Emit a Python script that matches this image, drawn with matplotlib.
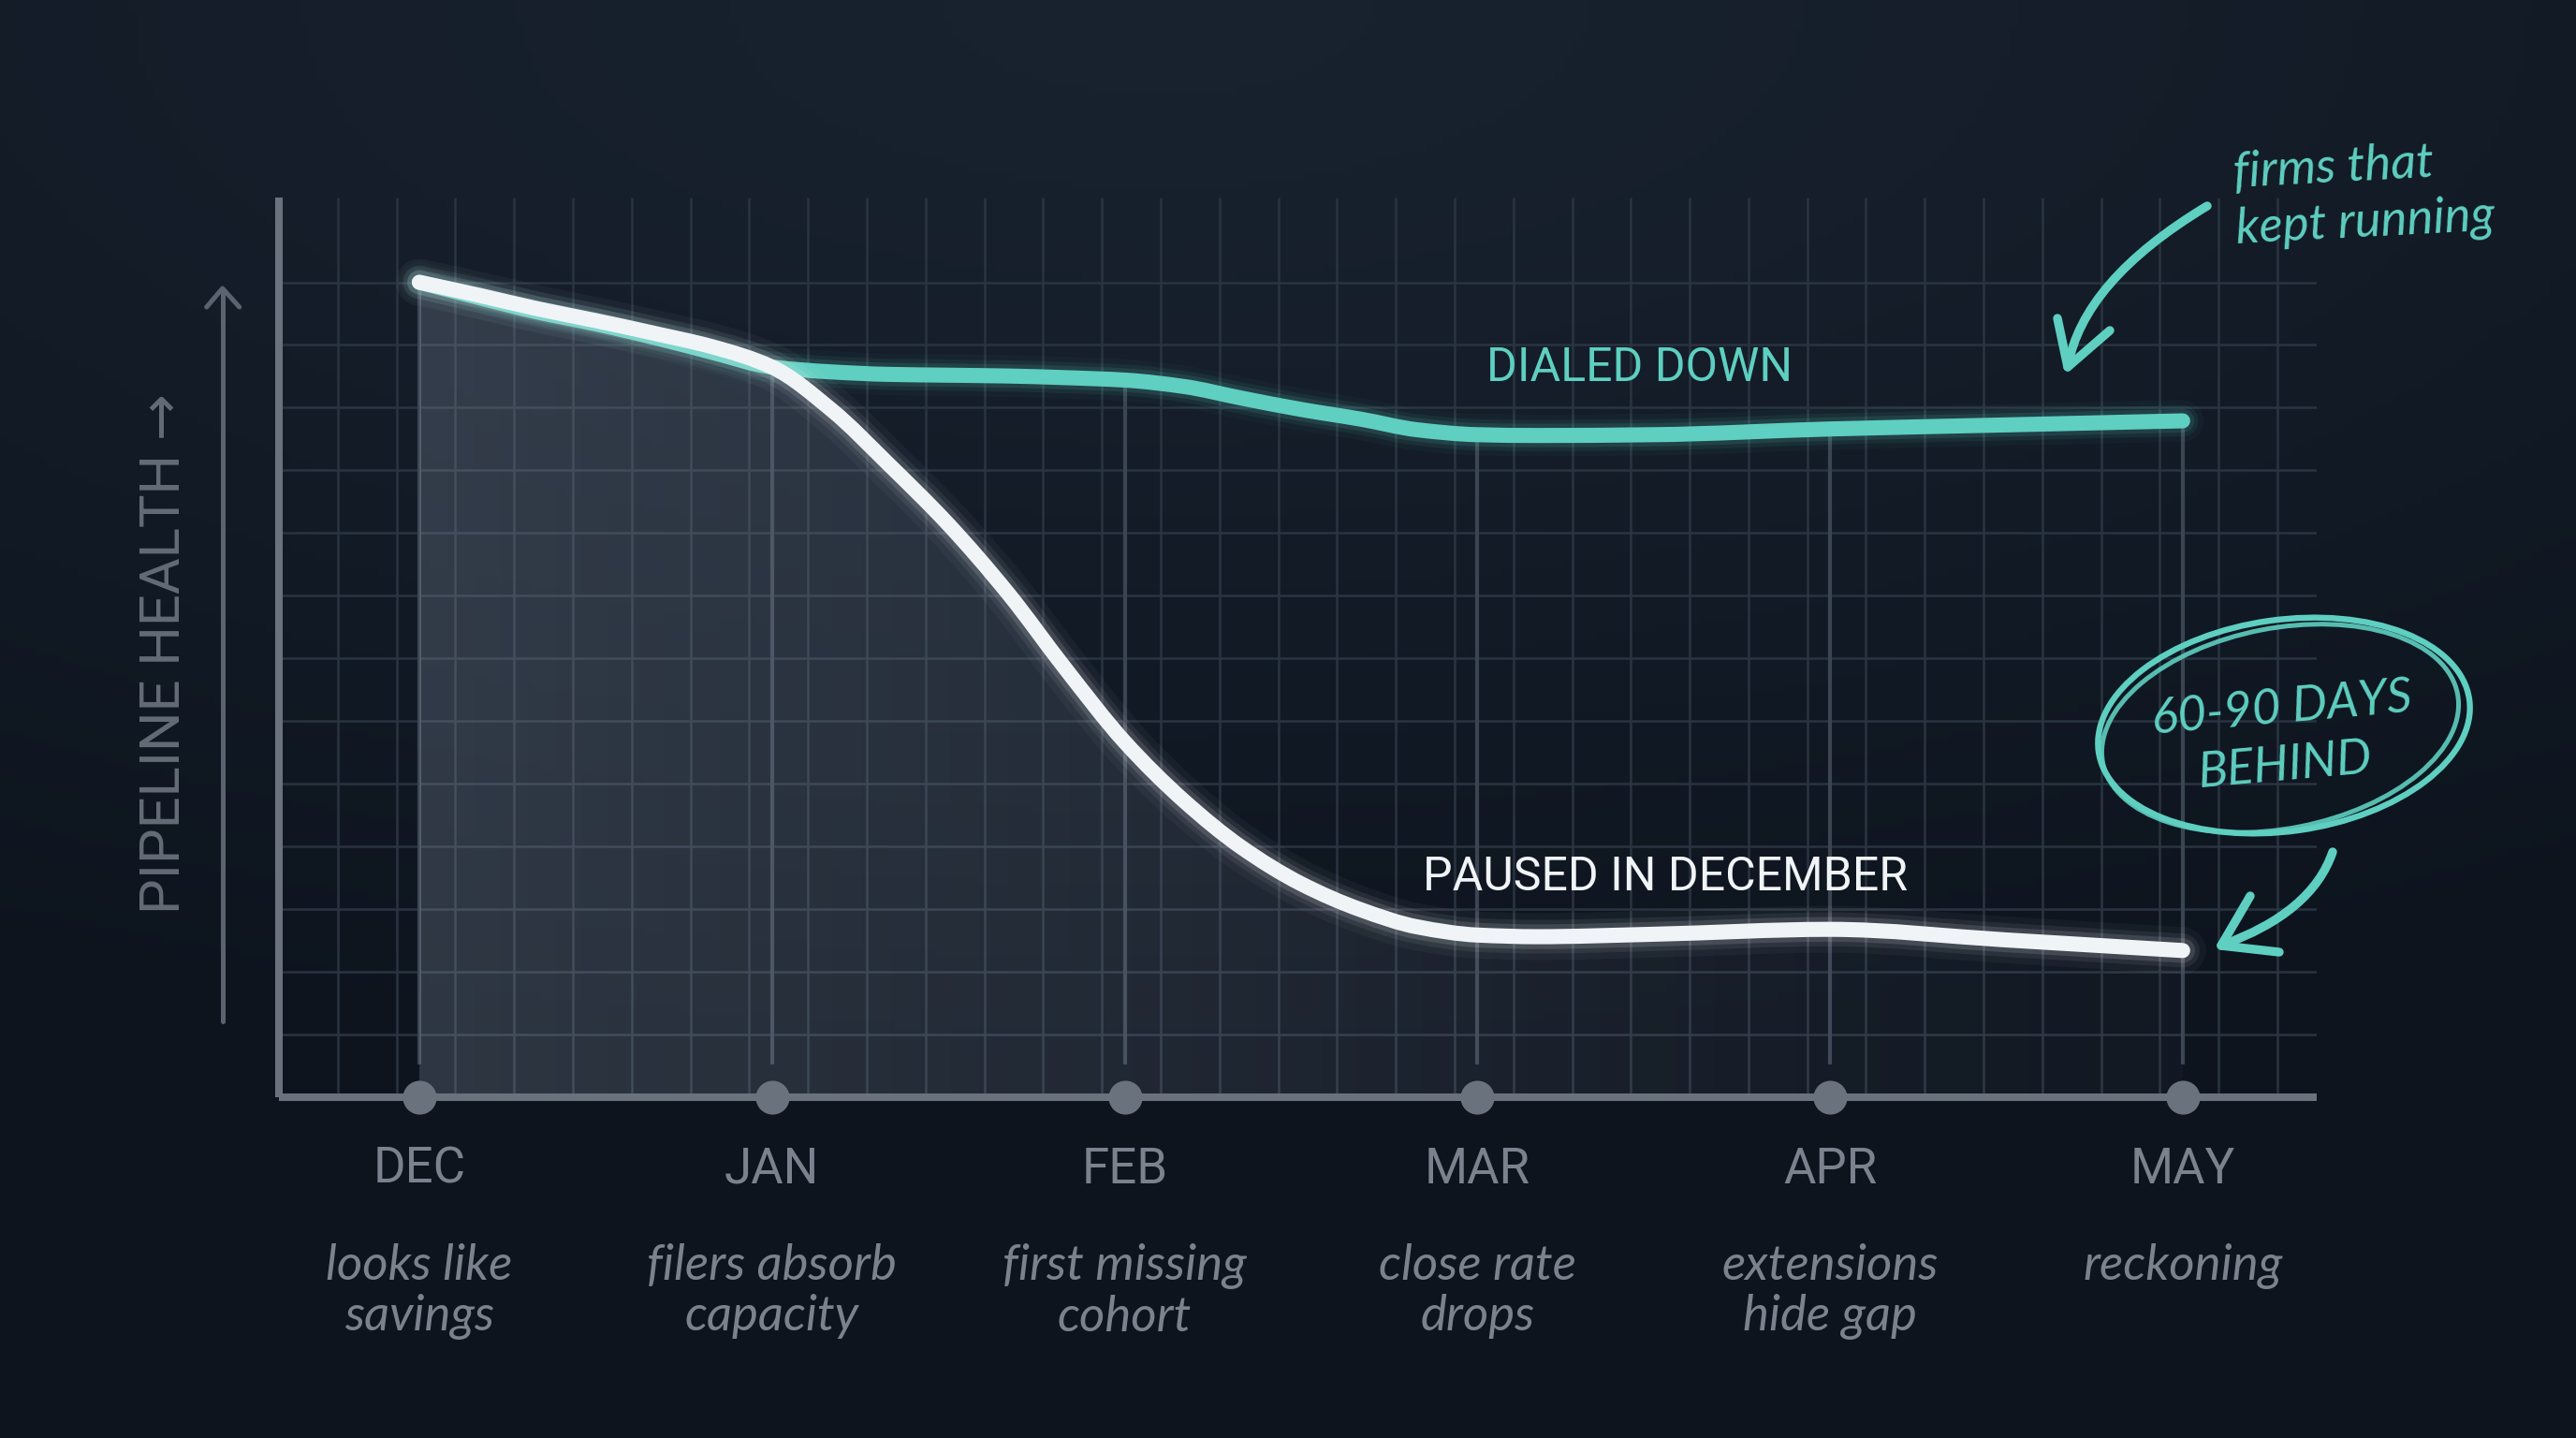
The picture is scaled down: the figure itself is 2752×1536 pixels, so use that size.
import numpy as np
import matplotlib
matplotlib.use("Agg")
import matplotlib.pyplot as plt
from matplotlib.patches import Ellipse, PathPatch
from matplotlib.path import Path

# ---------------- data ----------------
months = ["DEC", "JAN", "FEB", "MAR", "APR", "MAY"]
month_notes = ["looks like\nsavings", "filers absorb\ncapacity", "first missing\ncohort",
               "close rate\ndrops", "extensions\nhide gap", "reckoning"]

# time in months after December (0 = DEC ... 5 = MAY)
series_t = [0, 0.17, 0.33, 0.5, 0.67, 0.83, 1.0, 1.17, 1.33, 1.5, 1.67, 1.83,
            2.0, 2.17, 2.33, 2.5, 2.67, 2.83, 3.0, 3.17, 3.5, 4.0, 4.5, 5.0]
paused_health = [100, 98.4, 96.8, 95.3, 93.7, 92.1, 89.6, 84.3, 77.7, 70.3, 61.8, 52.7,
                 43.6, 36.3, 30.7, 26.2, 23.0, 20.9, 19.9, 19.7, 20.0, 20.6, 19.3, 18.0]
dialed_health = [100, 98.1, 96.4, 94.9, 93.2, 91.4, 89.6, 89.0, 88.7, 88.6, 88.5, 88.3,
                 88.0, 87.2, 85.8, 84.4, 83.2, 81.9, 81.3, 81.2, 81.3, 82.0, 82.5, 83.0]

paused_label = "PAUSED IN DECEMBER"
dialed_label = "DIALED DOWN"
y_label = "PIPELINE HEALTH \u2192"
note_top = ["firms that", "kept running"]
note_bottom = ["60-90 DAYS", "BEHIND"]

# ---------------- style ----------------
W, H, DPI = 2752, 1536, 200
TEAL = "#5ecfc0"
WHITE = "#f0f4f7"
AXIS = "#6a727e"
GRID = "#2a3441"
MONTHLINE = "#3b4451"
LABEL_GRAY = "#7a828e"
SANS = ["Roboto", "DejaVu Sans"]
HAND = ["Lato", "DejaVu Sans"]


def smooth_path(x, y, close_to=None):
    """Monotone cubic (Fritsch-Carlson) Bezier path through the data points."""
    x = np.asarray(x, float); y = np.asarray(y, float)
    h = np.diff(x); d = np.diff(y) / h
    n = len(x)
    m = np.zeros(n)
    m[0], m[-1] = d[0], d[-1]
    for i in range(1, n - 1):
        if d[i - 1] * d[i] <= 0:
            m[i] = 0.0
        else:
            w1 = 2 * h[i] + h[i - 1]
            w2 = h[i] + 2 * h[i - 1]
            m[i] = (w1 + w2) / (w1 / d[i - 1] + w2 / d[i])
    verts = [(x[0], y[0])]
    codes = [Path.MOVETO]
    for i in range(n - 1):
        verts += [(x[i] + h[i] / 3, y[i] + m[i] * h[i] / 3),
                  (x[i + 1] - h[i] / 3, y[i + 1] - m[i + 1] * h[i] / 3),
                  (x[i + 1], y[i + 1])]
        codes += [Path.CURVE4] * 3
    if close_to is not None:
        verts += [(x[-1], close_to), (x[0], close_to), (x[0], y[0])]
        codes += [Path.LINETO, Path.LINETO, Path.CLOSEPOLY]
    return Path(verts, codes)


fig = plt.figure(figsize=(W / DPI, H / DPI), dpi=DPI)

# background gradient
bg = fig.add_axes([0, 0, 1, 1], zorder=-10)
yy, xx = np.mgrid[0:1:200j, 0:1:300j]
top = np.array([25, 35, 48]) / 255.0
bot = np.array([13, 20, 30]) / 255.0
r = np.clip(np.sqrt(((xx - 0.45) * 1.0) ** 2 + (yy * 1.3) ** 2), 0, 1)
t = r[..., None]
img = top * (1 - t) + bot * t
bg.imshow(img, extent=[0, 1, 1, 0], aspect="auto")
bg.set_xlim(0, 1); bg.set_ylim(1, 0)
bg.axis("off")

# main axes
left, right = 298 / W, 2475 / W
bottom, topf = 1 - 1172 / H, 1 - 211 / H
ax = fig.add_axes([left, bottom, right - left, topf - bottom])
ax.set_facecolor("none")
XMIN, XMAX = -0.398, 5.380
YMIN, YMAX = 0, 110.4

t_arr = np.array(series_t)
p_arr = np.array(paused_health)
d_arr = np.array(dialed_health)
mx = np.arange(len(months))

# grid
gx = np.arange(XMIN + 1 / 6, XMAX, 1 / 6)
ax.vlines(gx, YMIN, YMAX, color=GRID, lw=0.9, zorder=0.5)
gy = np.arange(1, 14) * 100 / 13
ax.hlines(gy, XMIN, XMAX, color=GRID, lw=0.9, zorder=0.5)

# month guide lines
d_at = np.interp(mx, t_arr, d_arr)
ax.vlines(mx, 4, d_at, color=MONTHLINE, lw=1.5, zorder=0.6)

# gradient fill under paused curve
fill_patch = PathPatch(smooth_path(t_arr, p_arr, close_to=0), facecolor="none",
                       edgecolor="none")
ax.add_patch(fill_patch)
xs = np.linspace(0, 1, 256)
grad = np.zeros((2, 256, 4))
grad[..., 0] = 0.62; grad[..., 1] = 0.67; grad[..., 2] = 0.75
grad[..., 3] = 0.2 * (1 - xs) ** 1.3 + 0.035
im = ax.imshow(grad, extent=[t_arr[0], t_arr[-1], 0, 100], aspect="auto",
               origin="lower", zorder=0.8, interpolation="bilinear")
im.set_clip_path(fill_patch)


def draw_series(path, color, glow, z):
    for lw, a in glow:
        ax.add_patch(PathPatch(path, facecolor="none", edgecolor=color, lw=lw, alpha=a,
                               capstyle="round", joinstyle="round", zorder=z))
    ax.add_patch(PathPatch(path, facecolor="none", edgecolor=color, lw=5.8,
                           capstyle="round", joinstyle="round", zorder=z + 1))


draw_series(smooth_path(t_arr, d_arr), TEAL, [(16, 0.04), (12, 0.07), (9, 0.12)], 2)
draw_series(smooth_path(t_arr, p_arr), WHITE, [(18, 0.04), (13, 0.07), (9.5, 0.13)], 4)

# month markers
ax.plot(mx, np.zeros(len(mx)), "o", ms=12, color=AXIS, clip_on=False, zorder=6)

# series labels
ax.text(3.461, 89.5, dialed_label, color=TEAL, fontsize=18, family=SANS,
        ha="center", va="center", zorder=7)
ax.text(3.532, 27.0, paused_label, color=WHITE, fontsize=18, family=SANS,
        ha="center", va="center", zorder=7)

# month labels + notes
for i, (m, n) in enumerate(zip(months, month_notes)):
    ax.text(i, -8.85, m, color=LABEL_GRAY, fontsize=19, family=SANS,
            ha="center", va="center", clip_on=False)
    ax.text(i, -17.9, n, color=LABEL_GRAY, fontsize=19, family=HAND, style="italic",
            ha="center", va="top", clip_on=False, linespacing=1.15)

ax.set_xlim(XMIN, XMAX)
ax.set_ylim(YMIN, YMAX)
for s in ["top", "right"]:
    ax.spines[s].set_visible(False)
for s in ["left", "bottom"]:
    ax.spines[s].set_color(AXIS)
    ax.spines[s].set_linewidth(2.9)
    ax.spines[s].set_capstyle("butt")
ax.set_xticks([]); ax.set_yticks([])

# ---------------- overlay (pixel coords) ----------------
ov = fig.add_axes([0, 0, 1, 1], zorder=20)
ov.set_xlim(0, W); ov.set_ylim(H, 0)
ov.axis("off")
ov.patch.set_alpha(0)

# y-axis arrow
ov.plot([237.7, 237.7], [1091, 310], color="#5b6370", lw=1.8, solid_capstyle="round")
ov.plot([220.7, 237.7, 255.7], [328, 308, 328], color="#5b6370", lw=1.8,
        solid_capstyle="round", solid_joinstyle="round")
ov.text(176, 698, y_label, rotation=90, color="#636b77", fontsize=21.5, family=SANS,
        ha="center", va="center")


def bezier_arrow(p0, c, p2, barb1, barb2, lw=3.4):
    path = Path([p0, c, p2], [Path.MOVETO, Path.CURVE3, Path.CURVE3])
    ov.add_patch(PathPatch(path, facecolor="none", edgecolor=TEAL, lw=lw,
                           capstyle="round"))
    ov.plot([barb1[0], p2[0], barb2[0]], [barb1[1], p2[1], barb2[1]], color=TEAL,
            lw=lw, solid_capstyle="round", solid_joinstyle="round")


# top annotation
bezier_arrow((2358, 220), (2225, 300), (2209, 392), (2198, 340), (2254, 353))
ov.text(2385, 200, note_top[0], color=TEAL, fontsize=19, family=HAND,
        style="italic", ha="left", va="baseline", rotation=3)
ov.text(2387, 260, note_top[1], color=TEAL, fontsize=19, family=HAND,
        style="italic", ha="left", va="baseline", rotation=3)

# bottom annotation: circled text
ov.add_patch(Ellipse((2440, 775), 400, 226, angle=-8, facecolor="none",
                     edgecolor=TEAL, lw=2.3))
ov.add_patch(Ellipse((2436, 778), 386, 214, angle=-11, facecolor="none",
                     edgecolor=TEAL, lw=1.8, alpha=0.9))
ov.text(2438, 757, note_bottom[0], color=TEAL, fontsize=19, family=HAND,
        style="italic", ha="center", va="center", rotation=5)
ov.text(2441, 818, note_bottom[1], color=TEAL, fontsize=19, family=HAND,
        style="italic", ha="center", va="center", rotation=5)
bezier_arrow((2492, 910), (2470, 975), (2373, 1010), (2404, 957), (2435, 1017))

fig.savefig("out.png", dpi=DPI, facecolor="#0f1722")
